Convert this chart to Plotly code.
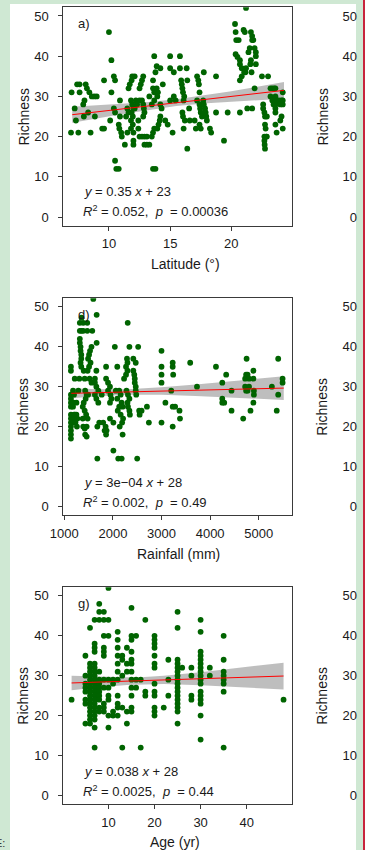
import plotly.graph_objects as go

# ---------------- data ----------------
# Panel a) Richness vs Latitude
lat_a = [6.95, 6.9, 7.2, 7.3, 7.4, 7.6, 7.5, 7.6, 7.9, 8.0, 8.1, 8.2, 8.4, 8.6, 8.8, 9.0, 7.95, 8.3, 8.85, 8.5,
         9.45, 9.6, 9.6, 10.0, 10.2, 10.4, 10.5, 10.4, 10.5, 10.1, 10.2, 10.5, 10.6, 10.8, 10.8, 10.85, 11.0, 11.05,
         10.9, 10.9, 11.3, 11.4, 11.5, 11.6, 11.5, 11.6, 11.7, 11.85, 11.9, 12.1,
         11.8, 11.9, 12.0, 11.85, 11.95, 11.8, 11.95, 11.8, 12.0, 12.0, 12.0, 12.1, 12.2, 12.3, 12.4, 12.4,
         12.5, 12.6, 12.7, 12.8, 12.5, 12.7, 12.8, 12.85, 12.5, 12.7, 12.9, 13.1, 12.9, 13.1, 13.3, 12.8, 12.9,
         13.3, 13.5, 13.7, 13.5, 13.6, 13.7, 13.6, 13.7, 13.9, 13.95, 14.0, 13.7, 13.6, 13.8, 13.9, 13.6, 13.8,
         13.95, 14.05, 14.15, 14.2, 14.2, 14.2, 14.3, 14.4, 14.6, 14.8, 15.0, 15.0, 15.0, 15.2, 15.3, 15.3, 15.45,
         15.8, 15.8, 15.9, 15.95, 16.0, 16.05, 16.15, 16.1, 16.0, 16.05, 16.2, 16.1, 16.35, 16.4, 16.4, 16.55, 16.6,
         17.0, 17.1, 17.2, 17.2, 17.3, 17.35, 17.4, 17.4, 17.45, 17.5, 17.6, 17.4, 17.5, 17.7, 17.75, 17.85, 17.9,
         17.95, 18.0, 17.75, 18.25, 18.35, 18.75, 18.75, 19.4, 19.7, 20.3, 20.35, 20.4, 20.6, 20.35, 20.5, 20.7,
         20.7, 20.85, 21.05, 20.85, 20.7, 21.0, 21.1, 21.2, 20.7, 21.2, 21.15, 21.3, 21.7, 21.6, 21.7, 21.7, 21.8,
         21.5, 21.4, 21.6, 21.55, 21.65, 21.9, 22.0, 22.0, 22.0, 21.9, 22.5, 22.6, 22.6, 22.7, 22.75, 22.75, 22.8,
         22.7, 22.85, 22.9, 22.7, 22.72, 22.75, 22.9, 23.0, 23.2, 23.35, 23.5, 23.6, 23.2, 23.35, 23.5, 23.6, 23.45,
         23.6, 23.75, 23.9, 24.0, 24.1, 23.6, 23.6, 23.6, 23.7, 24.0, 24.1, 24.2, 24.2, 24.2, 24.2]
rich_a = [31, 21, 27, 24, 33, 33, 21, 31, 28, 29, 33, 32, 31, 30, 30, 30, 25, 26, 25, 21,
          22, 22, 34, 46, 39, 35, 34, 27, 26, 24, 31, 14, 12, 12, 23, 22, 21, 20,
          29, 25, 18, 25, 27, 26, 21, 32, 33, 34, 35, 35,
          29, 28, 27, 26, 25, 24, 23, 22, 21, 18, 19, 27, 29, 28, 24, 22,
          32, 33, 34, 35, 29, 29, 28, 27, 20, 20, 20, 20, 18, 18, 18, 25, 26,
          30, 28, 29, 20, 21, 22, 32, 31, 32, 30, 31, 40, 34, 36, 37.5, 12, 12,
          22, 23, 24, 25, 37, 28, 27, 33, 24, 23, 29, 40, 37, 21, 36, 30, 29,
          40, 37, 34, 33, 32, 31, 30, 29, 26, 25, 24, 22, 37, 34, 17, 27, 24,
          24, 22, 29, 35, 34, 33, 31, 28, 27, 26, 25, 23, 22, 29, 28, 27, 26,
          25, 24, 36, 22, 21, 35, 26, 19, 26, 48, 46, 44, 44, 40.5, 39.8, 39,
          38, 37, 36, 35, 34, 46.5, 46, 52, 26, 37, 36, 27, 27, 46, 45, 44, 44,
          42, 41, 39, 38, 36, 42, 41, 40, 38, 32, 35, 28, 27, 26, 25, 23, 22,
          20, 20, 20, 19, 18, 17, 25, 35, 32, 32, 32, 32, 30, 29, 29, 30, 28,
          28, 29, 29, 28, 29, 26, 27, 23, 21, 24, 25, 22, 28, 29, 31, 30]

# Panel d) Richness vs Rainfall
rain_d = [1137, 1137, 1137, 1137, 1137, 1137, 1137, 1137, 1137, 1137, 1137, 1137, 1137,
          1180, 1190, 1200, 1210, 1220, 1230, 1250, 1270, 1190, 1230, 1260, 1200, 1250, 1180, 1215, 1290,
          1310, 1355, 1320, 1390, 1320, 1355, 1390, 1320, 1320, 1335, 1335, 1350, 1350, 1335, 1350, 1473, 1473,
          1576, 1597, 1666, 1666, 1560, 1530, 1510, 1490, 1540, 1510, 1400, 1480, 1420, 1520, 1560, 1430, 1460,
          1490, 1440, 1400, 1380, 1420, 1450, 1380, 1480, 1390, 1420, 1460, 1430, 1460, 1680, 1720, 1680, 1660,
          1630, 1630, 1660, 1700, 1630, 1660, 1700, 1770, 1800, 1850, 1830, 1860, 1860, 1900, 1940, 1900, 1950,
          1970, 1940, 1860, 1870, 1940, 2010, 2010, 2040, 2090, 2110, 2180, 2060, 2130, 2160, 2090, 2180, 2200,
          2130, 2100, 2160, 2210, 2190, 2140, 2200, 2230, 2270, 2300, 2270, 2300, 2290, 2305, 2340, 2280, 2310,
          2340, 2300, 2310, 2340, 2350, 2420, 2440, 2450, 2450, 2470, 2420, 2470, 2520, 2470, 2480, 2500, 2540,
          2550, 2590, 2700, 2740, 3000, 3000, 3000, 3000, 3000, 3080, 3200, 3230, 3230, 3240, 3230, 3280, 3230,
          3370, 3380, 3590, 3730, 4120, 4250, 4250, 4250, 4290, 4330, 4440, 4440, 4680, 4720, 4740, 4770, 4800,
          4750, 4720, 4740, 4770, 4800, 4830, 4890, 4890, 4900, 4900, 4890, 5270, 5370, 5400, 5400, 5490, 5490]
rich_d = [35, 34, 28, 27, 26, 25, 23, 22, 21, 20, 19, 18, 17,
          29, 26, 23, 22, 23, 22, 23, 22, 21, 21, 20, 28, 26, 25, 32, 29,
          32, 47.3, 46, 46, 44, 44, 44, 42, 41, 40, 39, 38, 37, 36, 35, 46, 44,
          44, 52, 48, 41, 40, 39, 38, 37, 36, 35, 34, 34, 32, 32, 31, 29, 28,
          28, 27, 26, 25, 24, 23, 22, 22, 20, 19.5, 20, 18, 17.5, 20, 21, 12, 34,
          32, 31, 30, 29, 28, 27, 26, 28, 21, 20, 19, 35, 32, 31, 30, 29, 28,
          27, 26, 18, 19, 22, 21, 14, 40, 35, 12, 12, 29, 29, 28, 27, 26, 25,
          25, 24, 23, 22, 21, 20, 18, 32, 33, 34, 35, 36, 37, 46, 40, 29, 28,
          27, 26, 25, 24, 23, 34, 33, 32, 31, 30, 37, 36, 40, 29, 28, 12, 24,
          23, 24, 25, 21, 39, 35, 33, 31, 21, 26, 29, 36, 35, 33, 25, 25, 20,
          24, 22, 36, 30, 35, 31, 27, 26, 26, 33, 29, 24, 22, 32, 33, 33, 32,
          37, 30, 29, 29, 30, 24, 34, 32, 29, 28, 26, 30, 24, 37, 28, 32, 31]

# Panel g) Richness vs Age (ages are discrete; richness values listed per age)
age_levels = [2, 5, 6, 7, 8, 9, 10, 11, 12, 13, 14, 15, 16, 17, 18, 20, 22, 23, 25, 26, 28, 30, 32, 35, 48]
rich_by_age = [
    [24],
    [35, 30, 28, 27, 26, 24, 23, 18],
    [42, 33, 32, 31, 30, 29, 28, 27, 26, 25, 24, 23, 22, 21, 20, 19, 18],
    [44, 38, 37, 36, 33, 32, 31, 30, 29, 28, 27, 26, 25, 24, 23, 22, 21, 20, 19, 17, 12],
    [48, 46, 44, 31, 29, 28, 27, 26, 25, 24, 22, 21],
    [46, 44, 40, 37, 36, 35, 29, 27, 23, 22, 21],
    [52, 44, 40, 29, 27, 25, 24, 20, 17],
    [29, 28, 21, 20],
    [41, 39, 37, 35, 33, 31, 29, 25, 23, 22, 20],
    [35, 34, 30, 22, 12],
    [37, 33, 31, 21, 18],
    [47, 40, 39, 36, 34, 33, 31, 29, 27, 25, 22, 21],
    [40, 29, 27],
    [29, 12],
    [44, 26, 25],
    [40, 39, 38, 37, 35, 33, 32, 28, 26, 25, 22, 21, 20],
    [22],
    [34, 29, 25],
    [46, 42, 34, 33, 32, 31, 30, 29, 28, 27, 26, 25, 24, 23, 22, 21, 18],
    [32],
    [32, 30, 25, 24],
    [44, 41, 36, 35, 34, 33, 32, 31, 30, 29, 28, 26, 25, 24, 23, 20, 14],
    [32, 30],
    [40, 34, 31, 30, 29, 28, 26, 12],
    [24],
]
age_g = [a for a, rs in zip(age_levels, rich_by_age) for _ in rs]
rich_g = [r for rs in rich_by_age for r in rs]

# fitted lines and 95% bands
fit_a_x = [7, 9, 11, 13, 15.5, 18, 20, 22, 24.3]
fit_a_y = [25.45, 26.15, 26.85, 27.55, 28.43, 29.3, 30.0, 30.7, 31.5]
fit_a_lo = [23.45, 24.53, 25.57, 26.55, 27.58, 28.3, 28.72, 29.08, 29.44]
fit_a_hi = [27.45, 27.77, 28.13, 28.55, 29.28, 30.3, 31.28, 32.32, 33.56]

fit_d_x = [1144, 1700, 2300, 3000, 3700, 4400, 5000, 5514]
fit_d_y = [28.34, 28.51, 28.69, 28.90, 29.11, 29.32, 29.50, 29.65]
fit_d_lo = [27.09, 27.63, 27.99, 27.96, 27.68, 27.32, 26.99, 26.69]
fit_d_hi = [29.59, 29.39, 29.39, 29.84, 30.54, 31.32, 32.01, 32.61]

fit_g_x = [2, 8, 14, 17, 22, 30, 38, 48]
fit_g_y = [28.18, 28.40, 28.63, 28.75, 28.94, 29.24, 29.54, 29.92]
fit_g_lo = [26.38, 27.10, 27.68, 27.86, 27.91, 27.62, 27.18, 26.57]
fit_g_hi = [29.98, 29.70, 29.58, 29.64, 29.97, 30.86, 31.90, 33.27]

panel_labels = ["a)", "d)", "g)"]
x_titles = ["Latitude (°)", "Rainfall (mm)", "Age (yr)"]
eq_lines = [
    ("<i>y</i> = 0.35 <i>x</i> + 23", "<i>R</i><sup>2</sup> = 0.052,\u00a0\u00a0<i>p</i>\u00a0\u00a0= 0.00036"),
    ("<i>y</i> = 3e\u221204 <i>x</i> + 28", "<i>R</i><sup>2</sup> = 0.002,\u00a0\u00a0<i>p</i>\u00a0\u00a0= 0.49"),
    ("<i>y</i> = 0.038 <i>x</i> + 28", "<i>R</i><sup>2</sup> = 0.0025,\u00a0\u00a0<i>p</i>\u00a0\u00a0= 0.44"),
]
y_ticks = [0, 10, 20, 30, 40, 50]
x_ticks = [[10, 15, 20], [1000, 2000, 3000, 4000, 5000], [10, 20, 30, 40]]
x_ranges = [[6.27, 24.98], [980, 5690], [0.2, 49.9]]
y_range = [-2.15, 52.15]

# ---------------- layout helpers ----------------
W, H = 365, 850
def fx(p):
    return p / W
def fy(p):
    return 1 - p / H

FONT = "Liberation Sans, Arial, sans-serif"
TXT = "#1a1a1a"
GREEN = "#006400"

# panel pixel boxes: (top, bottom)
boxes = [(7.3, 225.7), (298.3, 515.0), (587.3, 804.0)]
x_left, x_right = 63.3, 292.3

fig = go.Figure()

datasets = [
    (lat_a, rich_a, fit_a_x, fit_a_y, fit_a_lo, fit_a_hi),
    (rain_d, rich_d, fit_d_x, fit_d_y, fit_d_lo, fit_d_hi),
    (age_g, rich_g, fit_g_x, fit_g_y, fit_g_lo, fit_g_hi),
]

for i, (xs, ys, fxs, fys, flo, fhi) in enumerate(datasets):
    k = "" if i == 0 else str(i + 1)
    xa, ya = "x" + k, "y" + k
    fig.add_trace(go.Scatter(x=fxs + fxs[::-1], y=fhi + flo[::-1], fill="toself",
                             fillcolor="rgba(150,150,150,0.62)", line=dict(width=0),
                             mode="lines", hoverinfo="skip", showlegend=False, xaxis=xa, yaxis=ya))
    fig.add_trace(go.Scatter(x=xs, y=ys, mode="markers",
                             marker=dict(size=5.8, color=GREEN, line=dict(width=0)),
                             showlegend=False, xaxis=xa, yaxis=ya))
    fig.add_trace(go.Scatter(x=fxs, y=fys, mode="lines", line=dict(color="#ff0000", width=1),
                             showlegend=False, xaxis=xa, yaxis=ya))
    # empty trace so the cut-off neighbouring panel's axis is drawn
    fig.add_trace(go.Scatter(x=[None], y=[None], mode="markers", showlegend=False, hoverinfo="skip",
                             xaxis=xa, yaxis="y" + str(i + 4)))

TICKFONT = dict(family=FONT, size=13, color=TXT)
axis_common = dict(showgrid=False, zeroline=False, showline=True, linecolor="#3a3a3a", linewidth=1,
                   mirror=True, ticks="outside", ticklen=4, tickwidth=1, tickcolor="#3a3a3a",
                   tickfont=TICKFONT, automargin=False)

layout = dict(
    template="none", autosize=False,
    width=W, height=H, margin=dict(l=0, r=0, t=0, b=0, pad=0, autoexpand=False),
    paper_bgcolor="#cfe8d3", plot_bgcolor="#ffffff", showlegend=False,
    font=dict(family=FONT, color=TXT),
)

def ann(text, x, y, size, xanchor="center", angle=0):
    return dict(text=text, x=fx(x), y=fy(y), xref="paper", yref="paper", xanchor=xanchor,
                yanchor="middle", textangle=angle, showarrow=False,
                font=dict(family=FONT, size=size, color=TXT))

annotations = []
for i in range(3):
    k = "" if i == 0 else str(i + 1)
    top, bot = boxes[i]
    layout["xaxis" + k] = dict(axis_common, domain=[fx(x_left), fx(x_right)], range=x_ranges[i],
                               tickvals=x_ticks[i], anchor="y" + k, ticklabelstandoff=2)
    layout["yaxis" + k] = dict(axis_common, domain=[fy(bot), fy(top)], range=y_range,
                               tickvals=y_ticks, anchor="x" + k, ticklabelstandoff=7)
    layout["yaxis" + str(i + 4)] = dict(overlaying="y" + k, anchor="free", position=fx(357),
                                        side="left", range=y_range, tickvals=y_ticks, ticks="",
                                        showline=False, showgrid=False, zeroline=False,
                                        tickfont=TICKFONT, automargin=False)
    mid = (top + bot) / 2
    annotations += [
        ann("Richness", 23, mid, 14, angle=-90),
        ann("Richness", 322, mid, 14, angle=-90),
        ann(panel_labels[i], 76, top + 16.5, 13, xanchor="left"),
        ann(eq_lines[i][0], 82, top + 184.5, 13, xanchor="left"),
        ann(eq_lines[i][1], 81, top + 203.5, 13, xanchor="left"),
    ]
xt_pos = [(185, 264), (178, 554), (175, 842)]
for i in range(3):
    annotations.append(ann(x_titles[i], xt_pos[i][0], xt_pos[i][1], 14))
annotations.append(dict(text="E:", x=fx(7), y=fy(843), xref="paper", yref="paper", xanchor="right",
                        yanchor="middle", showarrow=False,
                        font=dict(family=FONT, size=11, color="#333333")))
layout["annotations"] = annotations

layout["shapes"] = [
    dict(type="rect", xref="paper", yref="paper", x0=fx(10), x1=fx(356), y0=0, y1=fy(4),
         fillcolor="#ffffff", line=dict(width=0), layer="below"),
    dict(type="rect", xref="paper", yref="paper", x0=fx(363), x1=1, y0=0, y1=1,
         fillcolor="#c8243c", line=dict(width=0), layer="above"),
]

fig.update_layout(**layout)
fig.write_html("out.html")
